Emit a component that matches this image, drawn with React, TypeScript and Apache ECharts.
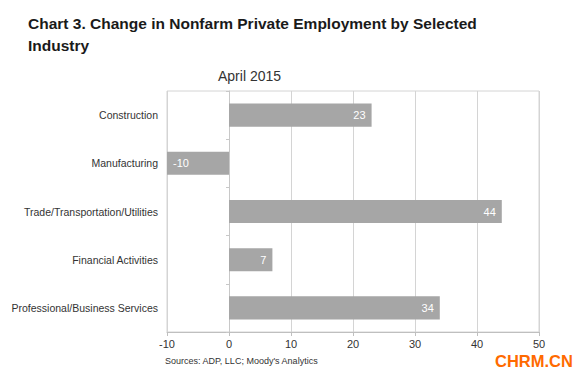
import React, { useEffect, useRef } from "react";
import * as echarts from "echarts";

const categories = [
  "Construction",
  "Manufacturing",
  "Trade/Transportation/Utilities",
  "Financial Activities",
  "Professional/Business Services",
];
const values = [23, -10, 44, 7, 34];
const xTicks = { min: -10, max: 50, interval: 10 };

const FONT = "Arial, 'Liberation Sans', sans-serif";

export default function App() {
  const ref = useRef<HTMLDivElement>(null);
  useEffect(() => {
    if (!ref.current) return;
    const chart = echarts.init(ref.current, null, { renderer: "svg" });
    chart.setOption({
      animation: false,
      backgroundColor: "#ffffff",
      textStyle: { fontFamily: FONT },
      grid: {
        left: 167,
        right: 44,
        top: 91,
        bottom: 45,
        show: true,
        borderColor: "#d4d4d4",
        borderWidth: 1,
      },
      graphic: [
        {
          type: "text",
          left: 28,
          top: 12,
          style: {
            text: "Chart 3. Change in Nonfarm Private Employment by Selected\nIndustry",
            font: "bold 15.5px " + FONT,
            fill: "#1a1a1a",
            lineHeight: 22,
          },
        },
        {
          type: "text",
          left: 218,
          top: 69,
          style: { text: "April 2015", font: "14px " + FONT, fill: "#333" },
        },
        {
          type: "text",
          left: 165,
          top: 356,
          style: {
            text: "Sources: ADP, LLC; Moody's Analytics",
            font: "9px " + FONT,
            fill: "#333",
          },
        },
        {
          type: "text",
          left: 495,
          top: 352,
          style: { text: "CHRM.CN", font: "bold 16.5px " + FONT, fill: "#ff6a00" },
        },
      ],
      xAxis: {
        type: "value",
        min: xTicks.min,
        max: xTicks.max,
        interval: xTicks.interval,
        axisLine: { show: true, lineStyle: { color: "#bfbfbf" } },
        axisTick: { show: true, length: 4, lineStyle: { color: "#bfbfbf" } },
        axisLabel: { color: "#333", fontSize: 11, margin: 6, lineHeight: 12 },
        splitLine: { show: true, lineStyle: { color: "#d4d4d4" } },
      },
      yAxis: [
        {
          type: "category",
          data: categories,
          inverse: true,
          axisLine: { show: false, onZero: false },
          axisTick: { show: false },
          axisLabel: { color: "#333", fontSize: 10.5, margin: 9 },
        },
        {
          type: "category",
          data: categories,
          inverse: true,
          position: "left",
          offset: -62,
          axisLine: { show: true, onZero: false, lineStyle: { color: "#c8c8c8" } },
          axisTick: { show: true, length: 3, lineStyle: { color: "#c8c8c8" } },
          axisLabel: { show: false },
        },
      ],
      series: [
        {
          type: "bar",
          yAxisIndex: 0,
          barWidth: "48%",
          data: values.map((v) => ({
            value: v,
            label: { position: v < 0 ? "insideLeft" : "insideRight" },
          })),
          itemStyle: { color: "#a6a6a6" },
          label: {
            show: true,
            color: "#ffffff",
            fontSize: 11,
            distance: 6,
          },
        },
      ],
    });
    return () => chart.dispose();
  }, []);
  return (
    <div
      ref={ref}
      style={{ position: "fixed", left: 0, top: 0, width: 583, height: 377 }}
    />
  );
}
